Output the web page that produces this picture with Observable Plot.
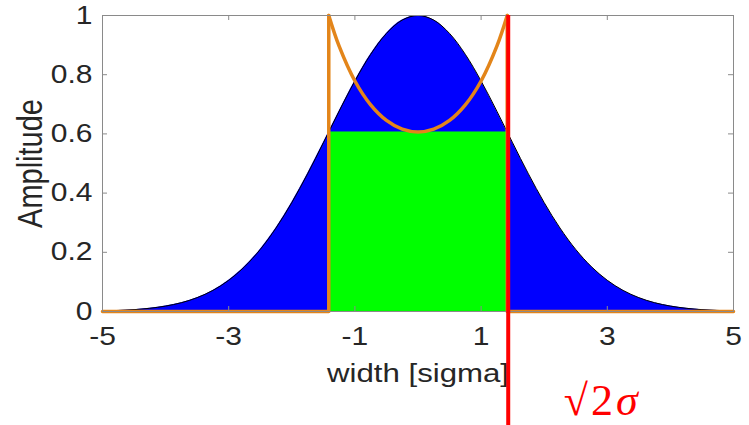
<!DOCTYPE html>
<html>
<head>
<meta charset="utf-8">
<script src="https://cdn.jsdelivr.net/npm/d3@7"></script>
<script src="https://cdn.jsdelivr.net/npm/@observablehq/plot@0.6"></script>
<style>
  html, body { margin: 0; padding: 0; background: #fff; }
  #chart svg { display: block; }
</style>
</head>
<body>
<div id="chart"></div>
<script>
// Gaussian pulse sampled along the width axis (in sigma units)
const widthSigma = [-5, -4.75, -4.5, -4.25, -4, -3.75, -3.5, -3.25, -3, -2.75, -2.5, -2.25, -2, -1.75, -1.5, -1.25, -1, -0.75, -0.5, -0.25,
  0, 0.25, 0.5, 0.75, 1, 1.25, 1.5, 1.75, 2, 2.25, 2.5, 2.75, 3, 3.25, 3.5, 3.75, 4, 4.25, 4.5, 4.75, 5];
const amplitude = [0.0019, 0.0036, 0.0063, 0.0109, 0.0183, 0.0297, 0.0468, 0.0713, 0.1054, 0.1510, 0.2096, 0.2821, 0.3679, 0.4650, 0.5698, 0.6767, 0.7788, 0.8688, 0.9394, 0.9845,
  1.0, 0.9845, 0.9394, 0.8688, 0.7788, 0.6767, 0.5698, 0.4650, 0.3679, 0.2821, 0.2096, 0.1510, 0.1054, 0.0713, 0.0468, 0.0297, 0.0183, 0.0109, 0.0063, 0.0036, 0.0019];

// Flat-top window between the edges and the correction curve above it
const bandEdges = [-1.414, 1.414];
const bandHeight = 0.6065;
const cupX = [-1.414, -1.25, -1, -0.75, -0.5, -0.25, 0, 0.25, 0.5, 0.75, 1, 1.25, 1.414];
const cupY = [1.0, 0.8963, 0.7788, 0.6981, 0.6456, 0.6161, 0.6065, 0.6161, 0.6456, 0.6981, 0.7788, 0.8963, 1.0];

// Marker line at sqrt(2) sigma
const markerX = 1.414;
const markerLabel = "√2σ";

// Axes
const xDomain = [-5, 5];
const yDomain = [0, 1];
const xTicks = [-5, -3, -1, 1, 3, 5];
const yTicks = [0, 0.2, 0.4, 0.6, 0.8, 1];
const xLabel = "width [sigma]";
const yLabel = "Amplitude";

const W = 749, H = 425;
const M = {top: 15, right: 16, bottom: 114, left: 102};
const frameW = W - M.left - M.right;
const frameH = H - M.top - M.bottom;

const orange = "#e3851a";
const axisGray = "#8a8a8a";
const textColor = "#262626";

const pulse = widthSigma.map((x, i) => ({x, y: amplitude[i]}));
const cup = cupX.map((x, i) => ({x, y: cupY[i]}));
const steps = [
  {x: xDomain[0], y: 0, side: "left"},
  {x: bandEdges[0], y: 0, side: "left"},
  {x: bandEdges[0], y: cupY[0], side: "left"},
  {x: bandEdges[1], y: cupY[cupY.length - 1], side: "right"},
  {x: bandEdges[1], y: 0, side: "right"},
  {x: xDomain[1], y: 0, side: "right"}
];
const band = [{x1: bandEdges[0], x2: bandEdges[1], y1: 0, y2: bandHeight}];

const chart = Plot.plot({
  width: W,
  height: H,
  marginTop: M.top,
  marginRight: M.right,
  marginBottom: M.bottom,
  marginLeft: M.left,
  x: {domain: xDomain},
  y: {domain: yDomain},
  style: {fontFamily: "'Liberation Sans', Arial, sans-serif", background: "#fff", overflow: "visible"},
  marks: [
    Plot.areaY(pulse, {x: "x", y: "y", fill: "#0000ff", curve: "catmull-rom"}),
    Plot.lineY(pulse, {x: "x", y: "y", stroke: "#000", strokeWidth: 1, curve: "catmull-rom"}),
    Plot.rect(band, {x1: "x1", x2: "x2", y1: "y1", y2: "y2", fill: "#00ff00"}),
    Plot.line(steps, {x: "x", y: "y", z: "side", stroke: orange, strokeWidth: 3.5, strokeLinejoin: "round"}),
    Plot.line(cup, {x: "x", y: "y", stroke: orange, strokeWidth: 3.5, curve: "catmull-rom"}),
    Plot.frame({stroke: axisGray, strokeWidth: 1}),
    // inward ticks on all four sides
    Plot.ruleX(xTicks, {stroke: axisGray, insetBottom: frameH - 5}),
    Plot.ruleX(xTicks, {stroke: axisGray, insetTop: frameH - 5}),
    Plot.ruleY(yTicks, {stroke: axisGray, insetRight: frameW - 5}),
    Plot.ruleY(yTicks, {stroke: axisGray, insetLeft: frameW - 5}),
    Plot.axisX(xTicks, {tickSize: 0, tickPadding: 16, tickFormat: d => String(d), fontSize: 25, color: textColor, label: null}),
    Plot.axisY(yTicks, {tickSize: 0, tickPadding: 10, tickFormat: d => String(d), fontSize: 25, color: textColor, label: null}),
    Plot.text([xLabel], {frameAnchor: "bottom", lineAnchor: "middle", dy: 62, fontSize: 26, fill: textColor}),
    Plot.text([yLabel], {frameAnchor: "left", textAnchor: "middle", lineAnchor: "middle", dx: -72, rotate: -90, fontSize: 29, fill: textColor}),
    Plot.ruleX([markerX], {stroke: "#ff0000", strokeWidth: 4, dx: 1, insetBottom: -M.bottom}),
    Plot.text([markerLabel], {x: () => markerX, frameAnchor: "bottom", lineAnchor: "middle", dx: 95, dy: 89, fontSize: 44,
      fontFamily: "'Liberation Serif', 'DejaVu Serif', serif", fill: "#ff0000"})
  ]
});

// widen the axis lettering horizontally
d3.select(chart).selectAll("text")
  .filter(function () { return this.textContent !== markerLabel; })
  .each(function () {
    const t = this.getAttribute("transform") || "";
    this.setAttribute("transform", t + (t.includes("rotate") ? " scale(1,1.2)" : " scale(1.2,1)"));
  });

// typeset the marker label with an italic sigma
d3.select(chart).selectAll("text")
  .filter(function () { return this.textContent === markerLabel; })
  .each(function () {
    const el = d3.select(this).style("letter-spacing", "3px");
    el.text(null);
    el.append("tspan").text("√2");
    el.append("tspan").style("font-style", "italic").text("σ");
  });

document.getElementById("chart").appendChild(chart);
</script>
</body>
</html>
